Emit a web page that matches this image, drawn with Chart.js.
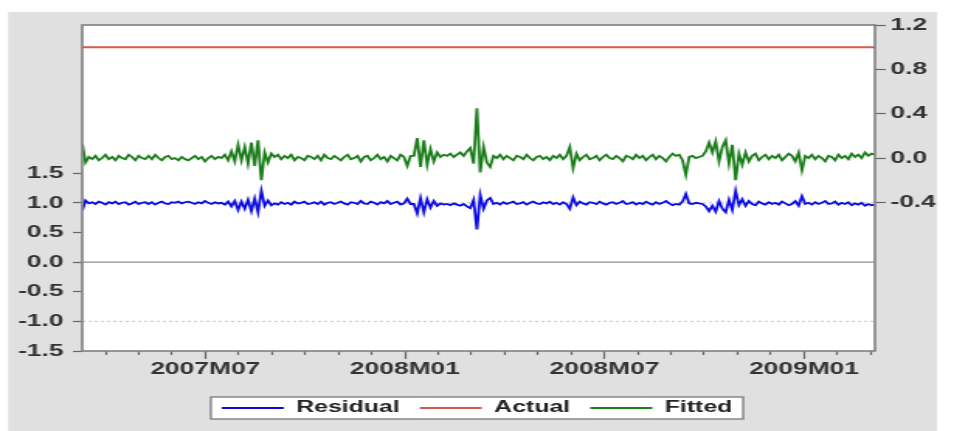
<!DOCTYPE html>
<html>
<head>
<meta charset="utf-8">
<title>Residual / Actual / Fitted</title>
<script src="https://cdn.jsdelivr.net/npm/chart.js@4.4.1/dist/chart.umd.min.js"></script>
<style>
  html, body { margin: 0; padding: 0; background: #fff; }
  /* canvas is drawn narrow and stretched sideways, like the wide EViews export */
  #chart { display: block; width: 954px !important; height: 431px !important; }
</style>
</head>
<body>
<canvas id="chart" width="615" height="431"></canvas>
<script>
// sample edges, in months counted from 2007M01 (2007M03 .. 2009M03)
const firstObs = 2.30;
const lastObs = 26.13;

// fitted values (right axis), about ten observations per month
const fitted = [
  0.13, -0.04, 0.01, -0.01, 0.02, -0.02, 0.00, 0.03, -0.01, 0.01,
  -0.02, 0.02, 0.00, -0.01, 0.03, 0.01, -0.02, 0.02, 0.00, -0.01,
  0.02, -0.01, 0.03, 0.00, -0.02, 0.01, 0.02, -0.01, 0.00, -0.02,
  0.01, -0.01, -0.02, 0.00, 0.02, -0.01, 0.01, -0.03, 0.00, 0.02,
  -0.01, 0.01, 0.00, 0.03, -0.02, 0.06, -0.03, 0.12, -0.02, 0.10,
  -0.05, 0.14, -0.07, 0.16, -0.20, 0.05, -0.04, 0.04, 0.01, 0.03,
  -0.01, 0.02, 0.00, 0.03, -0.02, 0.01, 0.00, -0.02, 0.02, 0.01,
  -0.01, 0.02, -0.02, 0.03, 0.00, -0.01, 0.02, 0.00, -0.02, 0.01,
  0.03, -0.01, 0.00, 0.02, -0.03, 0.01, 0.02, -0.02, 0.00, 0.03,
  -0.01, 0.01, -0.03, 0.02, 0.00, -0.02, 0.03, 0.01, -0.07, 0.02,
  0.02, 0.18, -0.08, 0.16, -0.06, 0.08, -0.03, 0.05, 0.01, 0.03,
  0.02, 0.04, 0.01, 0.03, 0.05, 0.02, 0.06, 0.09, -0.05, 0.45,
  -0.13, 0.10, -0.04, -0.08, 0.02, 0.00, 0.03, -0.01, 0.02, 0.00,
  -0.02, 0.02, 0.01, -0.01, 0.03, 0.00, -0.02, 0.01, 0.02, -0.01,
  0.01, -0.02, 0.02, 0.00, 0.03, -0.01, 0.02, 0.10, -0.09, 0.04,
  -0.02, 0.01, 0.03, -0.01, 0.00, 0.02, -0.02, 0.01, 0.03, 0.00,
  -0.01, 0.02, 0.00, -0.03, 0.02, 0.01, -0.01, 0.03, 0.00, 0.02,
  -0.02, 0.01, 0.03, -0.01, 0.02, 0.00, -0.03, 0.01, 0.04, 0.02,
  0.03, -0.02, -0.15, 0.01, 0.02, 0.00, 0.01, 0.02, 0.06, 0.14,
  0.05, 0.15, -0.03, 0.10, 0.16, -0.05, 0.12, -0.20, 0.04, -0.06,
  0.05, -0.03, 0.02, 0.04, -0.02, 0.01, 0.03, -0.01, 0.02, 0.00,
  0.03, -0.02, 0.01, 0.04, 0.02, -0.03, 0.05, -0.11, 0.02, 0.00,
  0.03, -0.01, 0.02, 0.00, -0.03, 0.02, 0.01, -0.02, 0.03, 0.00,
  0.02, -0.01, 0.04, 0.01, 0.03, 0.00, 0.05, 0.02, 0.04, 0.03,
];

// residuals (left axis)
const residual = [
  0.87, 1.04, 0.99, 1.01, 0.98, 1.02, 1.00, 0.97, 1.01, 0.99,
  1.02, 0.98, 1.00, 1.01, 0.97, 0.99, 1.02, 0.98, 1.00, 1.01,
  0.98, 1.01, 0.97, 1.00, 1.02, 0.99, 0.98, 1.01, 1.00, 1.02,
  0.99, 1.01, 1.02, 1.00, 0.98, 1.01, 0.99, 1.03, 1.00, 0.98,
  1.01, 0.99, 1.00, 0.97, 1.02, 0.94, 1.03, 0.88, 1.02, 0.90,
  1.05, 0.86, 1.07, 0.84, 1.20, 0.95, 1.04, 0.96, 0.99, 0.97,
  1.01, 0.98, 1.00, 0.97, 1.02, 0.99, 1.00, 1.02, 0.98, 0.99,
  1.01, 0.98, 1.02, 0.97, 1.00, 1.01, 0.98, 1.00, 1.02, 0.99,
  0.97, 1.01, 1.00, 0.98, 1.03, 0.99, 0.98, 1.02, 1.00, 0.97,
  1.01, 0.99, 1.03, 0.98, 1.00, 1.02, 0.97, 0.99, 1.07, 0.98,
  0.98, 0.82, 1.08, 0.84, 1.06, 0.92, 1.03, 0.95, 0.99, 0.97,
  0.98, 0.96, 0.99, 0.97, 0.95, 0.98, 0.94, 0.91, 1.05, 0.55,
  1.13, 0.90, 1.04, 1.08, 0.98, 1.00, 0.97, 1.01, 0.98, 1.00,
  1.02, 0.98, 0.99, 1.01, 0.97, 1.00, 1.02, 0.99, 0.98, 1.01,
  0.99, 1.02, 0.98, 1.00, 0.97, 1.01, 0.98, 0.90, 1.09, 0.96,
  1.02, 0.99, 0.97, 1.01, 1.00, 0.98, 1.02, 0.99, 0.97, 1.00,
  1.01, 0.98, 1.00, 1.03, 0.98, 0.99, 1.01, 0.97, 1.00, 0.98,
  1.02, 0.99, 0.97, 1.01, 0.98, 1.00, 1.03, 0.99, 0.96, 0.98,
  0.97, 1.02, 1.15, 0.99, 0.98, 1.00, 0.99, 0.98, 0.94, 0.86,
  0.95, 0.85, 1.03, 0.90, 0.84, 1.05, 0.88, 1.20, 0.96, 1.06,
  0.95, 1.03, 0.98, 0.96, 1.02, 0.99, 0.97, 1.01, 0.98, 1.00,
  0.97, 1.02, 0.99, 0.96, 0.98, 1.03, 0.95, 1.11, 0.98, 1.00,
  0.97, 1.01, 0.98, 1.00, 1.03, 0.98, 0.99, 1.02, 0.97, 1.00,
  0.98, 1.01, 0.96, 0.99, 0.97, 1.00, 0.95, 0.98, 0.96, 0.97,
];

// the actual series is flat over the whole sample
const actualLevel = 1.0;

const leftTicks = [-1.5, -1.0, -0.5, 0.0, 0.5, 1.0, 1.5];
const rightTicks = [-0.4, 0.0, 0.4, 0.8, 1.2];
const xTickMonths = [6, 12, 18, 24];
const xTickLabels = ["2007M07", "2008M01", "2008M07", "2009M01"];
const zeroLine = 0;
const seBands = [-1, 1];

const monthTicks = [];
for (let m = Math.ceil(firstObs); m <= Math.floor(lastObs); m++) monthTicks.push(m);

const obsX = fitted.map((_, i) => firstObs + (i * (lastObs - firstObs)) / (fitted.length - 1));
const toPoints = (values) => values.map((y, i) => ({ x: obsX[i], y }));

Chart.defaults.font.family = '"Liberation Sans", Arial, sans-serif';
const tickFont = { size: 17, weight: "bold" };

function legendFrame(chart) {
  const hb = chart.legend.legendHitBoxes;
  if (!hb || !hb.length) return null;
  const first = hb[0];
  const last = hb[hb.length - 1];
  return { x: first.left - 7, y: first.top - 3, w: last.left + last.width - first.left + 14, h: first.height + 6 };
}

const backdrop = {
  id: "backdrop",
  beforeDraw(chart) {
    const { ctx, chartArea: a } = chart;
    ctx.save();
    ctx.fillStyle = "#fff";
    ctx.fillRect(0, 0, chart.width, chart.height);
    ctx.fillStyle = "#e0e0e0";
    ctx.fillRect(5.2, 12, 598.9, 419);
    ctx.fillStyle = "#fff";
    ctx.fillRect(a.left, a.top, a.right - a.left, a.bottom - a.top);
    const box = legendFrame(chart);
    if (box) ctx.fillRect(box.x, box.y, box.w, box.h);
    ctx.restore();
  },
  beforeDatasetsDraw(chart) {
    const { ctx, chartArea: a } = chart;
    const y = chart.scales.yLeft;
    ctx.save();
    ctx.strokeStyle = "#8c8c8c";
    ctx.lineWidth = 1.2;
    ctx.beginPath();
    ctx.moveTo(a.left, y.getPixelForValue(zeroLine));
    ctx.lineTo(a.right, y.getPixelForValue(zeroLine));
    ctx.stroke();
    ctx.strokeStyle = "#c4c4c4";
    ctx.lineWidth = 1;
    ctx.setLineDash([2, 2]);
    seBands.forEach((v) => {
      ctx.beginPath();
      ctx.moveTo(a.left, y.getPixelForValue(v));
      ctx.lineTo(a.right, y.getPixelForValue(v));
      ctx.stroke();
    });
    ctx.restore();
  },
  afterDraw(chart) {
    const { ctx, chartArea: a } = chart;
    ctx.save();
    ctx.strokeStyle = "#808080";
    ctx.lineWidth = 1.6;
    ctx.strokeRect(a.left, a.top, a.right - a.left, a.bottom - a.top);
    const box = legendFrame(chart);
    if (box) {
      ctx.strokeStyle = "#7a7a7a";
      ctx.lineWidth = 1.3;
      ctx.strokeRect(box.x, box.y, box.w, box.h);
    }
    ctx.restore();
  },
};

new Chart(document.getElementById("chart"), {
  type: "line",
  data: {
    datasets: [
      { label: "Residual", data: toPoints(residual), yAxisID: "yLeft", borderColor: "#0b0be6", borderWidth: 1.8 },
      { label: "Actual", data: obsX.map((x) => ({ x, y: actualLevel })), yAxisID: "yRight", borderColor: "#d8574b", borderWidth: 2 },
      { label: "Fitted", data: toPoints(fitted), yAxisID: "yRight", borderColor: "#1a7d1a", borderWidth: 1.8 },
    ],
  },
  options: {
    responsive: false,
    animation: false,
    events: [],
    layout: { padding: { top: 25, bottom: 5, left: 0, right: 0 } },
    elements: { point: { radius: 0 }, line: { tension: 0 } },
    scales: {
      x: {
        type: "linear",
        min: firstObs,
        max: lastObs,
        afterBuildTicks: (s) => { s.ticks = monthTicks.map((value) => ({ value })); },
        afterFit: (s) => { s.height = 36; },
        grid: {
          drawOnChartArea: false,
          tickLength: 8,
          tickColor: "#666",
          tickWidth: 1.2,
          tickBorderDash: (c) => (xTickMonths.includes(c.tick && c.tick.value) ? [] : [4, 20]),
        },
        border: { display: false },
        ticks: {
          autoSkip: false,
          maxRotation: 0,
          minRotation: 0,
          padding: 0,
          color: "#333",
          font: tickFont,
          callback: (v) => {
            const k = xTickMonths.indexOf(v);
            return k >= 0 ? xTickLabels[k] : "";
          },
        },
      },
      yLeft: {
        type: "linear",
        position: "left",
        min: -1.5,
        max: 4.0,
        afterBuildTicks: (s) => { s.ticks = leftTicks.map((value) => ({ value })); },
        afterFit: (s) => { s.width = 53; },
        grid: { drawOnChartArea: false, tickLength: 6, tickColor: "#666", tickWidth: 1.2 },
        border: { display: false },
        ticks: { color: "#333", font: tickFont, padding: 6, callback: (v) => v.toFixed(1) },
      },
      yRight: {
        type: "linear",
        position: "right",
        min: -1.74,
        max: 1.2,
        afterBuildTicks: (s) => { s.ticks = rightTicks.map((value) => ({ value })); },
        afterFit: (s) => { s.width = 51; },
        grid: { drawOnChartArea: false, tickLength: 7, tickColor: "#666", tickWidth: 1.2 },
        border: { display: false },
        ticks: { color: "#333", font: tickFont, padding: 3, callback: (v) => v.toFixed(1) },
      },
    },
    plugins: {
      tooltip: { enabled: false },
      legend: {
        position: "bottom",
        labels: {
          usePointStyle: true,
          pointStyle: "line",
          pointStyleWidth: 40,
          padding: 13,
          color: "#222",
          font: { size: 16, weight: "bold" },
        },
      },
    },
  },
  plugins: [backdrop],
});
</script>
</body>
</html>
